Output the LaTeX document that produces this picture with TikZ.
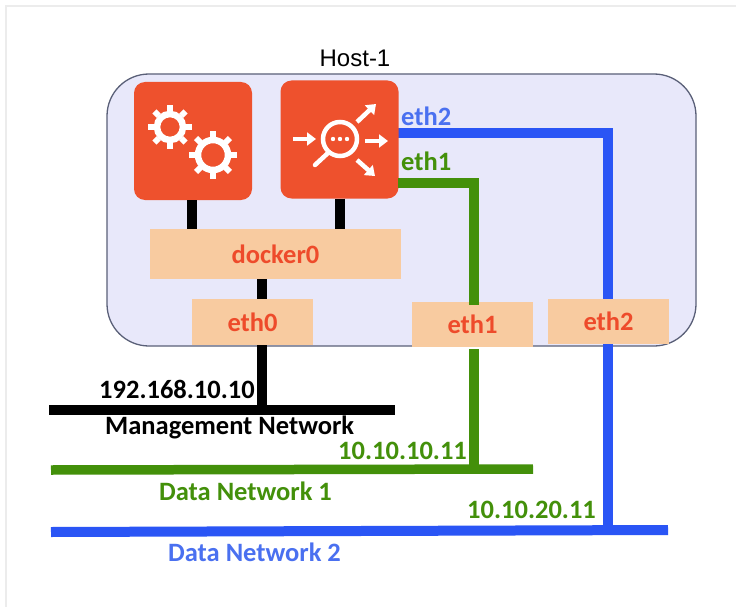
\documentclass[tikz,border=0pt]{standalone}
\usepackage{fontspec}
\setmainfont{Carlito}
\newfontfamily\hostfont{Liberation Sans}
\usetikzlibrary{arrows.meta}
\definecolor{hostfill}{HTML}{E8E8FA}
\definecolor{hostline}{HTML}{5A6078}
\definecolor{orangebox}{HTML}{EE512D}
\definecolor{peach}{HTML}{F8CBA0}
\definecolor{redtext}{HTML}{EE4B2B}
\definecolor{netgreen}{HTML}{43900A}
\definecolor{netblue}{HTML}{2A55F5}
\definecolor{labelblue}{HTML}{4A70F0}
\definecolor{framegrey}{HTML}{ECECEC}
\tikzset{
  x=1pt,y=-1pt,
  hostbox/.style={draw=hostline,line width=1.3pt,fill=hostfill,rounded corners=42pt,minimum width=589pt,minimum height=272pt,inner sep=0pt},
  appbox/.style={fill=orangebox,rounded corners=11pt,minimum width=118pt,minimum height=118pt,inner sep=0pt},
  ifbox/.style={fill=peach,minimum width=121pt,minimum height=46pt,inner sep=0pt,text=redtext,font=\bfseries\fontsize{26.5}{28}\selectfont},
  blackwire/.style={draw=black,line width=10pt},
  greenwire/.style={draw=netgreen,line width=9.5pt},
  bluewire/.style={draw=netblue,line width=10pt},
  lbl/.style={inner sep=0pt,font=\bfseries\fontsize{26.5}{28}\selectfont},
  iconline/.style={draw=white,line width=4.5pt},
  iconarrow/.style={draw=white,line width=4.5pt,-{Triangle[length=9pt,width=13pt]}},
}
\newcommand{\geartool}[4]{% x y ringradius toothradius
  \foreach \a in {0,45,...,315}{
    \draw[white,line width=6pt] ({#1+#3*cos(\a)},{#2+#3*sin(\a)}) -- ({#1+#4*cos(\a)},{#2+#4*sin(\a)});
  }
  \draw[white,line width=6.5pt] (#1,#2) circle[radius=#3-3];
}
\begin{document}
\begin{tikzpicture}
\useasboundingbox (0,0) rectangle (736,607);
\fill[white] (0,0) rectangle (736,607);
\draw[framegrey,line width=1.6pt] (6,607) -- (6,6) -- (736,6);

\node[hostbox] (host) at (401.5,210) {};
\node[inner sep=0pt,font=\hostfont\fontsize{24}{26}\selectfont] (hostlabel) at (355,58) {Host-1};

\coordinate (mgmtL) at (49,410);
\coordinate (mgmtR) at (395,410);
\coordinate (d1L) at (51,470);
\coordinate (d1R) at (533,469);
\coordinate (d2L) at (51,532);
\coordinate (d2R) at (668,530);
\coordinate (mgmtTap) at (262,410);
\coordinate (d1Tap) at (474,469);
\coordinate (d2Tap) at (608,531);
\coordinate (greenBend) at (474,183);
\coordinate (blueBend) at (608,133);
\coordinate (greenStart) at (398,183);
\coordinate (blueStart) at (398,133);
\coordinate (greenStub) at (474,305);
\coordinate (greenBelow) at (474,349);

\draw[blackwire] (mgmtL) -- (mgmtR);
\draw[greenwire] (d1L) -- (d1R);
\draw[bluewire] (d2L) -- (d2R);
\draw[bluewire] (blueStart) -- (blueBend) -- (d2Tap);

\node[appbox] (app) at (193,141) {};
\node[appbox] (lb) at (339.5,139.5) {};
\node[ifbox,minimum width=251pt,minimum height=50pt] (docker) at (275.5,254) {docker0};
\node[ifbox] (eth0) at (252.5,322) {eth0};
\node[ifbox,minimum height=45pt] (eth1) at (472.5,324.5) {eth1};
\node[ifbox,minimum height=45pt] (eth2) at (608.5,321.5) {eth2};

\draw[greenwire] (greenStart) -- (greenBend) -- (greenStub);
\draw[greenwire] (greenBelow) -- (d1Tap);
\draw[blackwire] (app.south -| 192,0) -- (docker.north -| 192,0);
\draw[blackwire] (lb.south) -- (docker.north -| lb.south);
\draw[blackwire] (docker.south -| 262,0) -- (eth0.north -| 262,0);
\draw[blackwire] (eth0.south -| mgmtTap) -- (mgmtTap);

\geartool{170}{127}{16}{22}
\geartool{213}{155}{18}{24}

\draw[iconline] (340,139) circle[radius=17];
\draw[iconline,line cap=round] (328,153) -- (315,165);
\foreach \dx in {-7,0,7}{\fill[white] (340+\dx,139) circle[radius=2.2];}
\draw[iconarrow] (293,139) -- (316,139);
\draw[iconarrow] (365,141) -- (388,141);
\draw[iconarrow] (357,122) -- (376,104);
\draw[iconarrow] (357,160) -- (375,176);

\node[lbl,text=labelblue,anchor=west] (eth2lbl) at (401,116) {eth2};
\node[lbl,text=netgreen,anchor=west] (eth1lbl) at (401,161) {eth1};
\node[lbl,text=black,anchor=west] (mgmtip) at (99,389) {192.168.10.10};
\node[lbl,text=black,anchor=west] (mgmtname) at (105,427) {Management Network};
\node[lbl,text=netgreen,anchor=west] (d1ip) at (338,451) {10.10.10.11};
\node[lbl,text=netgreen,anchor=west] (d1name) at (159,491) {Data Network 1};
\node[lbl,text=netgreen,anchor=west] (d2ip) at (467,510) {10.10.20.11};
\node[lbl,text=labelblue,anchor=west] (d2name) at (168,552) {Data Network 2};
\end{tikzpicture}
\end{document}
